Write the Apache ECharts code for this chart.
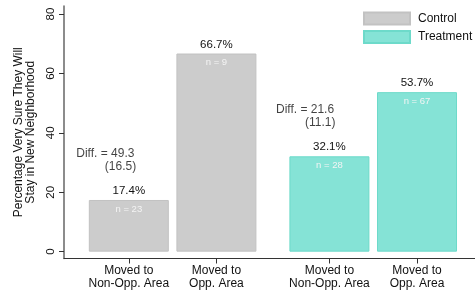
<!DOCTYPE html>
<html>
<head>
<meta charset="utf-8">
<script src="https://cdn.jsdelivr.net/npm/echarts@6/dist/echarts.min.js"></script>
<style>
  html, body { margin: 0; padding: 0; background: #fff; }
  #chart { width: 475px; height: 294px; }
</style>
</head>
<body>
<div id="chart"></div>
<script>
// data
var categories = ['Moved to\nNon-Opp. Area', 'Moved to\nOpp. Area', 'Moved to\nNon-Opp. Area', 'Moved to\nOpp. Area']
var xPos = [0, 1, 2.29, 3.29]
var controlValues = [17.4, 66.7]
var treatmentValues = [32.1, 53.7]
var controlN = [23, 9]
var treatmentN = [28, 67]
var diffValues = ['49.3', '21.6']
var diffSE = ['16.5', '11.1']
var yTicks = [0, 20, 40, 60, 80]

var font = 'Liberation Sans, Arial, sans-serif'

function barData (values, nList, offset) {
  return values.map(function (v, i) {
    return { value: [xPos[offset + i], v], n: nList[i] }
  })
}

function barLabel () {
  return {
    show: true,
    position: 'insideTop',
    distance: 0,
    offset: [0, -18],
    formatter: function (p) {
      return '{p|' + p.value[1].toFixed(1) + '%}\n{n|n = ' + p.data.n + '}'
    },
    rich: {
      p: { fontSize: 11.5, color: '#111', lineHeight: 18, fontFamily: font },
      n: { fontSize: 9.5, color: '#f4f4f4', lineHeight: 18, fontFamily: font }
    }
  }
}

// diff annotations, anchored next to the first bar of each group
var diffLines = [
  { value: [xPos[0] - 0.6, 32.9], text: 'Diff. = ' + diffValues[0], align: 'left' },
  { value: [xPos[0] - 0.095, 28.6], text: '(' + diffSE[0] + ')', align: 'center' },
  { value: [xPos[2] - 0.61, 47.7], text: 'Diff. = ' + diffValues[1], align: 'left' },
  { value: [xPos[2] - 0.105, 43.4], text: '(' + diffSE[1] + ')', align: 'center' }
]

var chart = echarts.init(document.getElementById('chart'))
chart.setOption({
  animation: false,
  textStyle: { fontFamily: font },
  grid: { left: 64, right: 0, top: 6, bottom: 35.5 },
  legend: {
    orient: 'vertical',
    left: 363,
    top: 11.5,
    padding: 0,
    icon: 'rect',
    itemWidth: 46,
    itemHeight: 12,
    itemGap: 4.5,
    data: ['Control', 'Treatment'],
    textStyle: { fontSize: 12, color: '#111', padding: [0, 0, 0, 3] }
  },
  xAxis: {
    type: 'value',
    min: -0.74,
    max: 3.952,
    splitLine: { show: false },
    axisLine: { show: true, onZero: false, lineStyle: { color: '#333', width: 1 } },
    axisTick: { show: true, length: 5, customValues: xPos, lineStyle: { color: '#333' } },
    axisLabel: {
      customValues: xPos,
      margin: 6,
      fontSize: 12,
      lineHeight: 13,
      color: '#111',
      formatter: function (v) {
        var i = xPos.indexOf(v)
        return i >= 0 ? categories[i] : ''
      }
    }
  },
  yAxis: {
    type: 'value',
    min: -2.3,
    max: 82.7,
    name: 'Percentage Very Sure They Will\nStay in New Neighborhood',
    nameLocation: 'middle',
    nameGap: 22,
    nameTextStyle: { fontSize: 12, color: '#111', lineHeight: 12 },
    splitLine: { show: false },
    axisLine: { show: true, onZero: false, lineStyle: { color: '#666', width: 1.5 } },
    axisTick: { show: true, length: 5, customValues: yTicks, lineStyle: { color: '#333' } },
    axisLabel: { customValues: yTicks, rotate: 90, margin: 7, fontSize: 11.5, color: '#111' }
  },
  series: [
    {
      name: 'Control',
      type: 'bar',
      barWidth: 80,
      barGap: '-100%',
      itemStyle: { color: '#cccccc', borderColor: '#c2c2c2', borderWidth: 1 },
      label: barLabel(),
      data: barData(controlValues, controlN, 0)
    },
    {
      name: 'Treatment',
      type: 'bar',
      barWidth: 80,
      barGap: '-100%',
      itemStyle: { color: '#85e3d6', borderColor: '#6ddaca', borderWidth: 1 },
      label: barLabel(),
      data: barData(treatmentValues, treatmentN, 2)
    },
    {
      name: 'diff',
      type: 'scatter',
      symbolSize: 0,
      silent: true,
      label: {
        show: true,
        position: 'inside',
        fontSize: 12,
        color: '#111',
        formatter: function (p) { return p.data.text }
      },
      data: diffLines.map(function (d) {
        return { value: d.value, text: d.text, label: { align: d.align } }
      })
    }
  ]
})
</script>
</body>
</html>
